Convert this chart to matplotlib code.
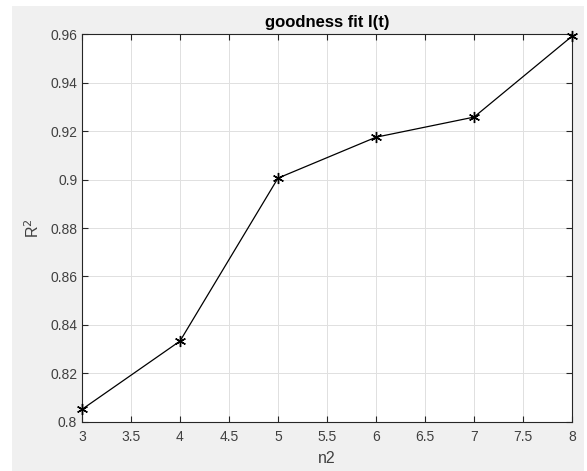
import numpy as np
import matplotlib.pyplot as plt
from matplotlib.patches import Rectangle

plt.rcParams['font.family'] = ['Liberation Sans', 'DejaVu Sans']

n2 = [3, 4, 5, 6, 7, 8]
r2 = [0.8051, 0.8333, 0.9006, 0.9175, 0.9258, 0.9592]
xticks = [3, 3.5, 4, 4.5, 5, 5.5, 6, 6.5, 7, 7.5, 8]
yticks = [0.8, 0.82, 0.84, 0.86, 0.88, 0.9, 0.92, 0.94, 0.96]
ytick_labels = ['0.8', '0.82', '0.84', '0.86', '0.88', '0.9', '0.92', '0.94', '0.96']

fig = plt.figure(figsize=(5.87, 4.71), dpi=100, facecolor='white')
# grey window background, kept behind the axes
fig.add_artist(Rectangle((12/587, 0), 572/587, 465/471, transform=fig.transFigure,
                         facecolor='#f0f0f0', edgecolor='none', zorder=-10))
ax = fig.add_axes([82/587, 1 - 421.7/471, 490/587, 387.4/471])
ax.set_facecolor('white')

# six-armed asterisk markers
ax.plot(n2, r2, color='black', linewidth=0.9, marker=(6, 2, 0), markersize=8,
        markeredgewidth=1.0, zorder=3, clip_on=False)

ax.set_xlim(3, 8)
ax.set_ylim(0.8, 0.96)
ax.set_xticks(xticks)
ax.set_xticklabels([f'{t:g}' for t in xticks])
ax.set_yticks(yticks)
ax.set_yticklabels(ytick_labels)
ax.grid(True, color='#e0e0e0', linewidth=0.7)
ax.set_axisbelow(True)

dark = '#262626'
for s in ax.spines.values():
    s.set_color(dark)
    s.set_linewidth(0.8)
ax.tick_params(direction='in', length=4, width=0.8, colors=dark, labelsize=10,
               top=True, right=True, labeltop=False, labelright=False)
ax.tick_params(axis='x', pad=6)
ax.tick_params(labelcolor='#404040')

ax.set_title('goodness fit I(t)', fontsize=12, fontweight='bold', color='black', pad=5)
ax.set_xlabel('n2', fontsize=11.5, color='#404040', labelpad=5)
ax.set_ylabel('R$^2$', fontsize=11.5, color='#404040', labelpad=6)

fig.savefig('out.png', dpi=100)
